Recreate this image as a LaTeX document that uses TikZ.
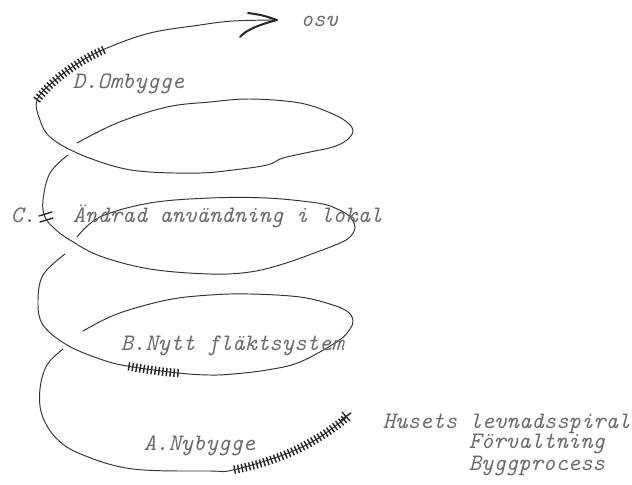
\documentclass[tikz,border=0pt]{standalone}
\usepackage{fontspec}
\usetikzlibrary{decorations.markings}
\tikzset{
  curve/.style={line width=0.24pt, draw=black!80, line cap=round, line join=round},
  lbl/.style={anchor=base west, inner sep=0pt, text=black!58,
    font=\fontsize{5.9}{7}\selectfont\ttfamily\itshape},
  hatchmarks/.style={decoration={markings,
      mark=between positions 0.02 and 0.98 step 0.95pt with
      {\draw[line width=0.36pt, black!85] (0pt,-1.05pt) -- (0pt,1.05pt);}},
    decorate},
  tip/.style={line width=0.5pt, draw=black!85, line cap=round, line join=round},
  tick/.style={line width=0.34pt, draw=black!85, line cap=round}
}
\begin{document}
\begin{tikzpicture}[x=0.25pt,y=-0.25pt]
\useasboundingbox (0,0) rectangle (632,484);
\fill[white] (0,0) rectangle (632,484);

% A: front arc of the lowest turn
\draw[curve] plot[smooth, tension=0.6] coordinates {(347,417) (317,439) (283,455) (233,470) (210,471) (133,469) (83,455) (57,439) (42,415) (40,389) (47,365) (63,349)};
\path[hatchmarks] (346,418) .. controls (320,440) and (280,462) .. (232,470);
\draw[tick] (342,412) -- (350,421) (341,420) -- (351,413);

% B turn
\draw[curve] plot[smooth, tension=0.6] coordinates {(83,331) (117,314) (167,300) (210,295) (250,294) (300,297) (333,305) (348,312) (353,320) (350,329) (338,341) (300,362) (267,370) (233,374) (210,375) (178,373) (127,366) (100,359) (67,345) (43,325) (38,302) (43,275) (65,254)};
\path[hatchmarks] (179,373) .. controls (160,372) and (145,369) .. (126,366);

% C turn
\draw[curve] plot[smooth, tension=0.6] coordinates {(77,237) (100,217) (150,203) (210,198) (267,198) (317,203) (335,208) (349,216) (355,227) (350,237) (340,243) (317,252) (283,264) (250,272) (210,274) (150,269) (100,256) (70,240) (55,229) (45,217) (43,200) (50,173) (68,155)};
\draw[tick] (39,216) -- (52,212) (40,222) -- (53,218);

% D turn and arrow
\draw[curve] plot[smooth, tension=0.6] coordinates {(77,143) (117,123) (167,107) (210,102) (250,99) (300,103) (333,114) (348,123) (353,131) (347,140) (333,147) (310,152) (283,158) (267,165) (233,170) (200,173) (150,172) (117,167) (77,153) (50,137) (40,120) (37,100) (55,80) (80,62) (107,48) (150,33) (200,25) (233,21) (277,20)};
\path[hatchmarks] (36,101) .. controls (50,82) and (75,62) .. (108,48);
\draw[tip] (248,13) .. controls (262,15) .. (277,20) .. controls (258,25) and (246,30) .. (240,37);

% texts
\node[lbl] (osv) at (300,26) {osv};
\node[lbl] (D) at (72,88) {D.Ombygge};
\node[lbl] (Cl) at (10,222) {C.};
\node[lbl] (C) at (72,222) {Ändrad användning i lokal};
\node[lbl] (B) at (120,350) {B.Nytt fläktsystem};
\node[lbl] (A) at (143,450) {A.Nybygge};
\node[lbl] (t1) at (382,428) {Husets levnadsspiral};
\node[lbl] (t2) at (468,448) {Förvaltning};
\node[lbl] (t3) at (468,470) {Byggprocess};
\end{tikzpicture}
\end{document}
